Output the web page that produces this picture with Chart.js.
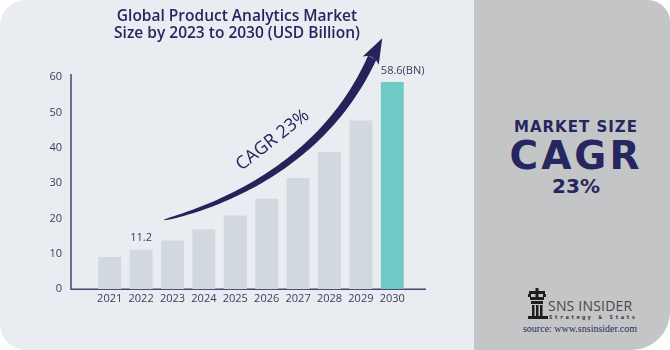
<!DOCTYPE html>
<html>
<head>
<meta charset="utf-8">
<script src="https://cdn.jsdelivr.net/npm/chart.js@4.4.1/dist/chart.umd.min.js"></script>
<style>
  html, body { margin: 0; padding: 0; background: #ffffff; }
  #wrap { position: relative; width: 670px; height: 350px; overflow: hidden; }
  #left { position: absolute; left: 0; top: 0; width: 474px; height: 350px;
          background: #e9ecf1; border-radius: 26px 0 0 26px; }
  #right { position: absolute; left: 474px; top: 0; width: 196px; height: 350px;
           background: #c4c5c7; border-radius: 0 22px 38px 0; }
  #chart { position: absolute; left: 0; top: 0; }
  .side { position: absolute; left: 4px; width: 196px; text-align: center; color: #262660;
          font-family: "DejaVu Sans", sans-serif; font-weight: bold; }
  #ms { top: 118px; font-size: 15px; letter-spacing: 1px; }
  #cagr { top: 133px; font-size: 39px; letter-spacing: 3px; }
  #pct { top: 174px; font-size: 20px; }
  #logo { position: absolute; left: 52px; top: 288px; }
  #brand { position: absolute; left: 74px; top: 299px; line-height: 14px; font-family: "Open Sans", sans-serif;
           font-size: 14px; color: #474747; letter-spacing: 0.2px; }
  #tag { position: absolute; left: 75px; top: 314px; line-height: 6px; font-family: "DejaVu Sans Mono", monospace;
         font-size: 5.5px; color: #333; letter-spacing: 2.2px; font-weight: bold; }
  #src { position: absolute; left: 0; width: 212px; top: 324px; line-height: 10px; text-align: center;
         font-family: "Liberation Serif", serif; font-size: 10px; color: #2b2b5a; }
</style>
</head>
<body>
<div id="wrap">
  <div id="left"></div>
  <div id="right">
    <div class="side" id="ms">MARKET SIZE</div>
    <div class="side" id="cagr">CAGR</div>
    <div class="side" id="pct">23%</div>
    <svg id="logo" width="22" height="34" viewBox="0 0 22 34">
      <g fill="#1e1e1e">
        <rect x="9.5" y="0" width="3" height="3"/>
        <rect x="3" y="3" width="16" height="3"/>
        <rect x="2" y="6" width="3" height="3"/>
        <rect x="9.5" y="6" width="3" height="3"/>
        <rect x="17" y="6" width="3" height="3"/>
        <rect x="4" y="9" width="14" height="3"/>
        <rect x="5" y="13" width="12" height="3"/>
        <rect x="6" y="17" width="2.5" height="11"/>
        <rect x="10" y="17" width="2.5" height="11"/>
        <rect x="14" y="17" width="2.5" height="11"/>
        <rect x="2" y="28" width="20" height="3"/>
      </g>
    </svg>
    <div id="brand">SNS INSIDER</div>
    <div id="tag">Strategy &amp; Stats</div>
    <div id="src">source: www.snsinsider.com</div>
  </div>
  <canvas id="chart" width="474" height="350"></canvas>
</div>
<script>
// chart data
const years = ["2021", "2022", "2023", "2024", "2025", "2026", "2027", "2028", "2029", "2030"];
const marketSize = [9.1, 11.2, 13.8, 16.9, 20.9, 25.6, 31.5, 38.8, 47.7, 58.6];
const valueLabels = ["", "11.2", "", "", "", "", "", "", "", "58.6(BN)"];
const yTickValues = [0, 10, 20, 30, 40, 50, 60];
const cagrText = "CAGR 23%";

const NAVY = "#262660";
const AXIS = "#45456e";
const TICK = "#3b3b5e";
const GREY_BAR = "#d1d8de";
const TEAL_BAR = "#6fcac5";
const FONT = "'Open Sans', sans-serif";

const barColors = years.map((y, i) => i === years.length - 1 ? TEAL_BAR : GREY_BAR);

// axis lines (drawn longer than the category range, like the original)
const axisLines = {
  id: "axisLines",
  beforeDatasetsDraw(chart){
    const {ctx, chartArea, scales} = chart;
    const ys = scales.y;
    const x0 = chartArea.left - 23;
    const yBottom = ys.getPixelForValue(0);
    const yTop = ys.getPixelForValue(yTickValues[yTickValues.length - 1]) - 3;
    ctx.save();
    ctx.strokeStyle = AXIS;
    ctx.lineWidth = 1.5;
    ctx.beginPath();
    ctx.moveTo(x0, yTop);
    ctx.lineTo(x0, yBottom);
    ctx.lineTo(chartArea.right + 18, yBottom);
    ctx.stroke();
    ctx.restore();
  }
};

// value labels over bars
const barLabels = {
  id: "barLabels",
  afterDatasetsDraw(chart){
    const {ctx} = chart;
    const meta = chart.getDatasetMeta(0);
    ctx.save();
    ctx.font = "11px " + FONT;
    ctx.fillStyle = TICK;
    ctx.textBaseline = "bottom";
    meta.data.forEach((bar, i) => {
      const txt = valueLabels[i];
      if(!txt) return;
      const w = ctx.measureText(txt).width;
      if(w > bar.width){
        ctx.textAlign = "left";
        ctx.fillText(txt, bar.x - bar.width / 2, bar.y - 6);
      } else {
        ctx.textAlign = "center";
        ctx.fillText(txt, bar.x, bar.y - 6);
      }
    });
    ctx.restore();
  }
};

// curved growth arrow + CAGR text
const growthArrow = {
  id: "growthArrow",
  afterDatasetsDraw(chart){
    const {ctx, scales} = chart;
    const P = (i, v) => ({x: scales.x.getPixelForValue(i), y: scales.y.getPixelForValue(v)});
    const p0 = P(1.74, 19.6), p1 = P(4.79, 26.7), p2 = P(7.18, 42.3), p3 = P(8.36, 65.5);
    const tip = P(8.68, 71.0);
    const bez = (t) => {
      const u = 1 - t;
      return {
        x: u*u*u*p0.x + 3*u*u*t*p1.x + 3*u*t*t*p2.x + t*t*t*p3.x,
        y: u*u*u*p0.y + 3*u*u*t*p1.y + 3*u*t*t*p2.y + t*t*t*p3.y
      };
    };
    const N = 60, upper = [], lower = [];
    for(let k = 0; k <= N; k++){
      const t = k / N;
      const a = bez(Math.max(0, t - 0.01)), b = bez(Math.min(1, t + 0.01));
      const dx = b.x - a.x, dy = b.y - a.y, len = Math.hypot(dx, dy) || 1;
      const nx = -dy / len, ny = dx / len;
      const hw = 0.4 + 4.2 * Math.sqrt(t);
      const p = bez(t);
      upper.push({x: p.x + nx * hw, y: p.y + ny * hw});
      lower.push({x: p.x - nx * hw, y: p.y - ny * hw});
    }
    ctx.save();
    ctx.fillStyle = "#25235a";
    ctx.beginPath();
    ctx.moveTo(upper[0].x, upper[0].y);
    upper.forEach(p => ctx.lineTo(p.x, p.y));
    for(let k = lower.length - 1; k >= 0; k--) ctx.lineTo(lower[k].x, lower[k].y);
    ctx.closePath();
    ctx.fill();
    // head
    const dx = tip.x - p3.x, dy = tip.y - p3.y, len = Math.hypot(dx, dy);
    const nx = -dy / len, ny = dx / len;
    const base = {x: p3.x - dx * 0.15, y: p3.y - dy * 0.15};
    ctx.beginPath();
    ctx.moveTo(tip.x, tip.y);
    ctx.lineTo(base.x + nx * 9, base.y + ny * 9);
    ctx.quadraticCurveTo(p3.x + dx * 0.2, p3.y + dy * 0.2, base.x - nx * 9, base.y - ny * 9);
    ctx.closePath();
    ctx.fill();

    const c = P(5.19, 42.2);
    ctx.translate(c.x, c.y);
    ctx.rotate(-38 * Math.PI / 180);
    ctx.font = "500 18px " + FONT;
    ctx.fillStyle = NAVY;
    ctx.textAlign = "center";
    ctx.textBaseline = "middle";
    ctx.fillText(cagrText, 0, 0);
    ctx.restore();
  }
};

new Chart(document.getElementById("chart"), {
  type: "bar",
  data: {
    labels: years,
    datasets: [{
      data: marketSize,
      backgroundColor: barColors,
      borderWidth: 0,
      categoryPercentage: 1,
      barPercentage: 0.73,
      yAxisID: "y"
    }]
  },
  options: {
    responsive: false,
    animation: false,
    devicePixelRatio: 1,
    layout: { padding: 0 },
    plugins: {
      legend: { display: false },
      tooltip: { enabled: false },
      title: {
        display: true,
        text: ["Global Product Analytics Market", "Size by 2023 to 2030 (USD Billion)"],
        color: NAVY,
        font: { family: FONT, size: 15.5, weight: "600", lineHeight: 1.1 },
        padding: { top: 8, bottom: 35 }
      }
    },
    scales: {
      x: {
        offset: true,
        grid: { display: false, drawTicks: false },
        border: { display: false },
        ticks: { color: TICK, font: { family: FONT, size: 11 }, padding: 3 },
        afterFit(s){ s.height = 60.7; }
      },
      y: {
        min: 0,
        max: 60,
        grid: { display: false, drawTicks: false },
        border: { display: false },
        afterBuildTicks(s){ s.ticks = yTickValues.map(v => ({value: v})); },
        ticks: { color: TICK, font: { family: FONT, size: 11 }, padding: 32 },
        afterFit(s){ s.width = 94; }
      },
      yR: {
        position: "right",
        grid: { display: false, drawTicks: false },
        border: { display: false },
        ticks: { display: false },
        afterFit(s){ s.width = 66; }
      }
    }
  },
  plugins: [axisLines, barLabels, growthArrow]
});
</script>
</body>
</html>
